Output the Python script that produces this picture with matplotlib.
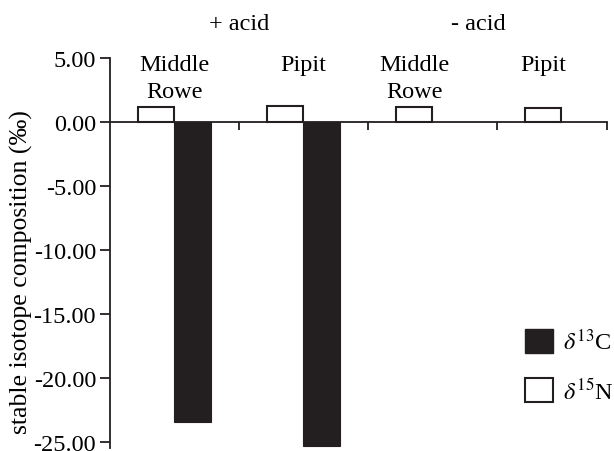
import numpy as np
import matplotlib
matplotlib.use('Agg')
import matplotlib.pyplot as plt
from matplotlib.patches import Patch

# Data
sites = ['Middle\nRowe', 'Pipit', 'Middle\nRowe', 'Pipit']
treatments = ['+ acid', '- acid']
treatment_of_site = [0, 0, 1, 1]
d13C = [-23.4, -25.3, np.nan, np.nan]
d15N = [1.2, 1.25, 1.2, 1.1]
y_ticks = [5, 0, -5, -10, -15, -20, -25]

plt.rcParams['font.family'] = ['Liberation Serif', 'DejaVu Serif']
plt.rcParams['mathtext.fontset'] = 'stix'
plt.rcParams['axes.unicode_minus'] = False

fs = 17.5

fig = plt.figure(figsize=(6.14, 4.52), dpi=100)
# axes placed so y=5 sits near the top and -25 near the bottom edge
ax = fig.add_axes([110 / 614, 2.6 / 452, 497 / 614, 390.4 / 452])

x = np.arange(len(sites)) + 0.5
w = 0.285
dark = '#231f20'

ax.bar(x - w, d15N, w, align='edge', facecolor='white', edgecolor=dark, linewidth=1.5, zorder=3)
ax.bar(x, d13C, w, align='edge', facecolor=dark, edgecolor=dark, linewidth=0.8, zorder=3)

ax.set_xlim(0, 3.853)
ax.set_ylim(-25.5, 5)
ax.set_yticks(y_ticks)
ax.set_yticklabels(['%.2f' % v for v in y_ticks])
ax.set_xticks([1, 2, 3, 3.853])
ax.set_xticklabels([])

ax.spines['top'].set_visible(False)
ax.spines['right'].set_visible(False)
ax.spines['bottom'].set_position(('data', 0))
ax.spines['left'].set_bounds(-25.5, 5)
for s in ['left', 'bottom']:
    ax.spines[s].set_linewidth(1.3)
    ax.spines[s].set_color(dark)
    ax.spines[s].set_zorder(4)
ax.tick_params(axis='y', direction='out', length=7, width=1.3, color=dark,
               labelsize=fs, pad=3)
ax.tick_params(axis='x', direction='out', length=6, width=1.3, color=dark)

# site labels centred over the bars present in each group
label_x = []
for i in range(len(sites)):
    if np.isnan(d13C[i]):
        cx = x[i] - w / 2
    else:
        cx = x[i]
    label_x.append(cx)
    ax.text(cx, 5.35, sites[i], ha='center', va='top', fontsize=fs,
            linespacing=1.4, clip_on=False)

# treatment headers centred between their sites
for t, name in enumerate(treatments):
    xs = [label_x[i] for i in range(len(sites)) if treatment_of_site[i] == t]
    ax.text(np.mean(xs), 7.7, name, ha='center', va='center', fontsize=fs, clip_on=False)

fig.text(21 / 614, 1 - 272 / 452, 'stable isotope composition (‰)', rotation=90,
         ha='center', va='center', fontsize=18.5)

handles = [Patch(facecolor=dark, edgecolor=dark),
           Patch(facecolor='white', edgecolor=dark, linewidth=1.5)]
ax.legend(handles, [r'$\delta^{13}$C', r'$\delta^{15}$N'], loc='upper left',
          bbox_to_anchor=(525 / 614, 1 - 330 / 452), bbox_transform=fig.transFigure,
          frameon=False, fontsize=fs, handlelength=1.15, handleheight=1.15,
          handletextpad=0.4, labelspacing=0.95, borderpad=0, borderaxespad=0)

fig.savefig('out.png', dpi=100)
